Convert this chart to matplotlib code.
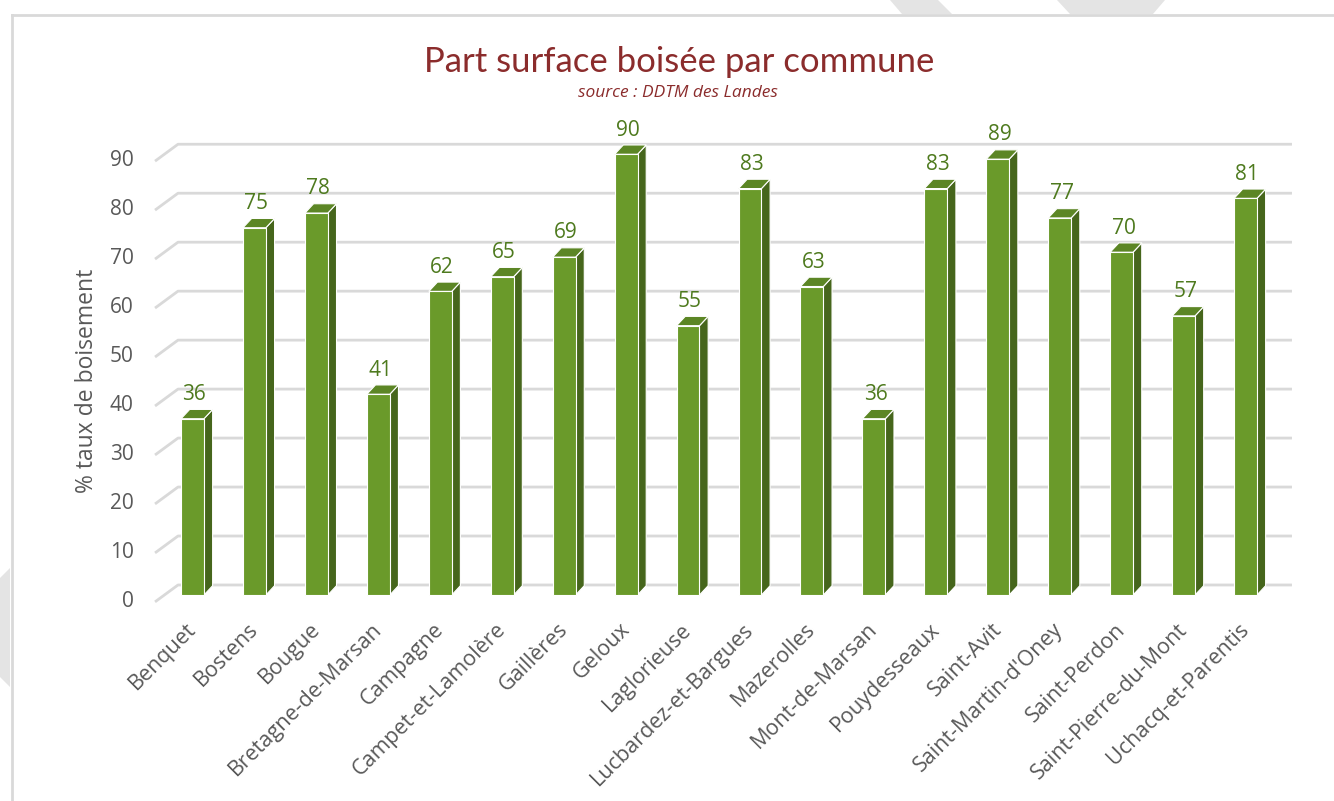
import matplotlib
matplotlib.use("Agg")
import matplotlib.pyplot as plt
from matplotlib.patches import Polygon
import numpy as np

communes = ["Benquet", "Bostens", "Bougue", "Bretagne-de-Marsan", "Campagne",
            "Campet-et-Lamolère", "Gaillères", "Geloux", "Laglorieuse",
            "Lucbardez-et-Bargues", "Mazerolles", "Mont-de-Marsan", "Pouydesseaux",
            "Saint-Avit", "Saint-Martin-d'Oney", "Saint-Perdon",
            "Saint-Pierre-du-Mont", "Uchacq-et-Parentis"]
taux = [36, 75, 78, 41, 62, 65, 69, 90, 55, 83, 63, 36, 83, 89, 77, 70, 57, 81]
yticks = [0, 10, 20, 30, 40, 50, 60, 70, 80, 90]

W, H = 1334, 801
fig = plt.figure(figsize=(W / 100, H / 100), dpi=100)

# axes placed so that 1 bar step = ~62 px and 1 unit = ~4.9 px
ax = fig.add_axes([130 / W, (H - 620) / H, 1170 / W, 500 / H])
ax.set_xlim(-1.009, 17.88)
ax.set_ylim(-5.1, 97.0)
ax.axis("off")

grid_col = "#D9D9D9"
front = "#6A9A2A"
top_c = "#5C8625"
side = "#46661C"

# back wall gridlines with the little diagonal on the side wall
for t in yticks:
    ax.plot([-0.605, -0.234, 17.75], [t - 1.4, t + 2.05, t + 2.05],
             color=grid_col, lw=2, solid_capstyle="butt", zorder=1)
    ax.text(-0.95, t - 1.3, str(t), ha="right", va="center",
            fontsize=15, color="#595959", family="Open Sans")

bw = 0.37
dx, dy = 0.14, 1.9
for i, v in enumerate(taux):
    x0, x1 = i - bw / 2, i + bw / 2
    ax.add_patch(Polygon([(x1, 0), (x1 + dx, dy), (x1 + dx, v + dy), (x1, v)],
                         closed=True, fc=side, ec="white", lw=0.8, zorder=3))
    ax.add_patch(Polygon([(x0, v), (x1, v), (x1 + dx, v + dy), (x0 + dx, v + dy)],
                         closed=True, fc=top_c, ec="white", lw=0.8, zorder=3))
    ax.add_patch(Polygon([(x0, 0), (x1, 0), (x1, v), (x0, v)],
                         closed=True, fc=front, ec="white", lw=0.8, zorder=4))
    ax.text(i + 0.03, v + 2.8, str(v), ha="center", va="bottom",
            fontsize=15, color="#4E7A1E", family="Open Sans")
    ax.text(i - 0.11, -4.9, communes[i], ha="right", va="top", rotation=45,
            rotation_mode="anchor", fontsize=15.5, color="#595959",
            family="Open Sans")

fig.text(87 / W, 1 - 381 / H, "% taux de boisement", rotation=90,
         ha="center", va="center", fontsize=16.5, color="#595959",
         family="Open Sans")

fig.text(679 / W, 1 - 62 / H, "Part surface boisée par commune",
         ha="center", va="center", fontsize=25, color="#8B2C2C", family="Lato")
fig.text(678 / W, 1 - 93 / H, "source : DDTM des Landes", ha="center",
         va="center", fontsize=12.5, style="italic", color="#8B2C2C",
         family="Open Sans")


def px(pts):
    return [(x / W, 1 - y / H) for x, y in pts]


# screenshot frame and decorations
for pts in ([(890, 0), (938, 0), (952, 14), (902, 14)],
            [(1057, 0), (1165, 0), (1153, 14), (1070, 14)],
            [(0, 578), (10, 568), (10, 687), (0, 677)]):
    fig.add_artist(Polygon(px(pts), closed=True, fc="#E4E4E4", ec="none",
                           transform=fig.transFigure))
fig.add_artist(plt.Line2D([12 / W, 1], [1 - 15 / H, 1 - 15 / H], color="#D9D9D9",
                          lw=2, transform=fig.transFigure))
fig.add_artist(plt.Line2D([12 / W, 12 / W], [0, 1 - 15 / H], color="#D9D9D9",
                          lw=2, transform=fig.transFigure))

fig.savefig("out.png", dpi=100, facecolor="white")
